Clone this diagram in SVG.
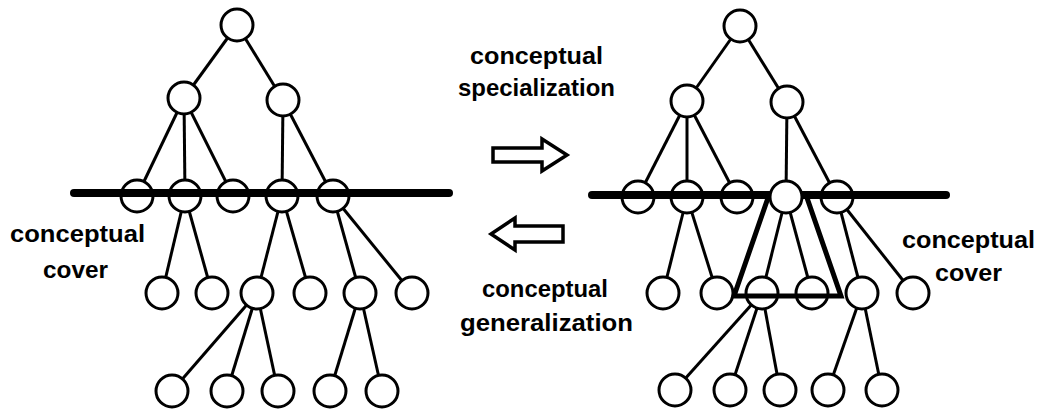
<svg xmlns="http://www.w3.org/2000/svg" width="1038" height="411" viewBox="0 0 1038 411">
<style>
.n{fill:#fff;stroke:#000;stroke-width:3}
.e{stroke:#000;stroke-width:3;fill:none}
.cov{stroke:#000;stroke-width:8;stroke-linecap:round}
.t{font-family:"Liberation Sans",Arial,sans-serif;font-weight:bold;font-size:24px;fill:#000}
.ar{fill:#fff;stroke:#000;stroke-width:3.5;stroke-linejoin:miter}
.tri{fill:none;stroke:#000;stroke-width:5;stroke-linejoin:miter}
</style>
<rect width="1038" height="411" fill="#fff"/>
<g id="connectors">
<line class="e" x1="237" y1="25" x2="184" y2="98"/>
<line class="e" x1="237" y1="25" x2="283" y2="100"/>
<line class="e" x1="184" y1="98" x2="137" y2="196"/>
<line class="e" x1="184" y1="98" x2="185" y2="196"/>
<line class="e" x1="184" y1="98" x2="233" y2="196"/>
<line class="e" x1="283" y1="100" x2="282" y2="196"/>
<line class="e" x1="283" y1="100" x2="333" y2="196"/>
<line class="e" x1="185" y1="196" x2="162" y2="293"/>
<line class="e" x1="185" y1="196" x2="212" y2="293"/>
<line class="e" x1="282" y1="196" x2="257" y2="293"/>
<line class="e" x1="282" y1="196" x2="310" y2="293"/>
<line class="e" x1="333" y1="196" x2="360" y2="293"/>
<line class="e" x1="333" y1="196" x2="412" y2="293"/>
<line class="e" x1="257" y1="293" x2="172" y2="391"/>
<line class="e" x1="257" y1="293" x2="227" y2="391"/>
<line class="e" x1="257" y1="293" x2="278" y2="391"/>
<line class="e" x1="360" y1="293" x2="330" y2="391"/>
<line class="e" x1="360" y1="293" x2="382" y2="391"/>
<line class="e" x1="740" y1="26" x2="687" y2="101"/>
<line class="e" x1="740" y1="26" x2="787" y2="102"/>
<line class="e" x1="687" y1="101" x2="638" y2="197"/>
<line class="e" x1="687" y1="101" x2="687" y2="197"/>
<line class="e" x1="687" y1="101" x2="737" y2="197"/>
<line class="e" x1="787" y1="102" x2="786" y2="197"/>
<line class="e" x1="787" y1="102" x2="837" y2="197"/>
<line class="e" x1="687" y1="197" x2="663" y2="293"/>
<line class="e" x1="687" y1="197" x2="717" y2="293"/>
<line class="e" x1="786" y1="197" x2="762" y2="293"/>
<line class="e" x1="786" y1="197" x2="812" y2="293"/>
<line class="e" x1="837" y1="197" x2="862" y2="293"/>
<line class="e" x1="837" y1="197" x2="913" y2="293"/>
<line class="e" x1="762" y1="293" x2="675" y2="390"/>
<line class="e" x1="762" y1="293" x2="730" y2="390"/>
<line class="e" x1="762" y1="293" x2="780" y2="390"/>
<line class="e" x1="862" y1="293" x2="828" y2="390"/>
<line class="e" x1="862" y1="293" x2="882" y2="390"/>
</g>
<g id="left-tree">
<g id="L-root"><circle class="n" cx="237" cy="25" r="16"/></g>
<g id="L-a"><circle class="n" cx="184" cy="98" r="16"/></g>
<g id="L-b"><circle class="n" cx="283" cy="100" r="16"/></g>
<g id="L-c1"><circle class="n" cx="137" cy="196" r="16"/></g>
<g id="L-c2"><circle class="n" cx="185" cy="196" r="16"/></g>
<g id="L-c3"><circle class="n" cx="233" cy="196" r="16"/></g>
<g id="L-c4"><circle class="n" cx="282" cy="196" r="16"/></g>
<g id="L-c5"><circle class="n" cx="333" cy="196" r="16"/></g>
<g id="L-d1"><circle class="n" cx="162" cy="293" r="16"/></g>
<g id="L-d2"><circle class="n" cx="212" cy="293" r="16"/></g>
<g id="L-d3"><circle class="n" cx="257" cy="293" r="16"/></g>
<g id="L-d4"><circle class="n" cx="310" cy="293" r="16"/></g>
<g id="L-d5"><circle class="n" cx="360" cy="293" r="16"/></g>
<g id="L-d6"><circle class="n" cx="412" cy="293" r="16"/></g>
<g id="L-e1"><circle class="n" cx="172" cy="391" r="16"/></g>
<g id="L-e2"><circle class="n" cx="227" cy="391" r="16"/></g>
<g id="L-e3"><circle class="n" cx="278" cy="391" r="16"/></g>
<g id="L-e4"><circle class="n" cx="330" cy="391" r="16"/></g>
<g id="L-e5"><circle class="n" cx="382" cy="391" r="16"/></g>
<g id="L-cover"><line class="cov" x1="74" y1="193" x2="449" y2="193"/></g>
</g>
<g id="right-tree">
<g id="R-root"><circle class="n" cx="740" cy="26" r="16"/></g>
<g id="R-a"><circle class="n" cx="687" cy="101" r="16"/></g>
<g id="R-b"><circle class="n" cx="787" cy="102" r="16"/></g>
<g id="R-c1"><circle class="n" cx="638" cy="197" r="16"/></g>
<g id="R-c2"><circle class="n" cx="687" cy="197" r="16"/></g>
<g id="R-c3"><circle class="n" cx="737" cy="197" r="16"/></g>
<g id="R-c5"><circle class="n" cx="837" cy="197" r="16"/></g>
<g id="R-d1"><circle class="n" cx="663" cy="293" r="16"/></g>
<g id="R-d2"><circle class="n" cx="717" cy="293" r="16"/></g>
<g id="R-d3"><circle class="n" cx="762" cy="293" r="16"/></g>
<g id="R-d4"><circle class="n" cx="812" cy="293" r="16"/></g>
<g id="R-d5"><circle class="n" cx="862" cy="293" r="16"/></g>
<g id="R-d6"><circle class="n" cx="913" cy="293" r="16"/></g>
<g id="R-e1"><circle class="n" cx="675" cy="390" r="16"/></g>
<g id="R-e2"><circle class="n" cx="730" cy="390" r="16"/></g>
<g id="R-e3"><circle class="n" cx="780" cy="390" r="16"/></g>
<g id="R-e4"><circle class="n" cx="828" cy="390" r="16"/></g>
<g id="R-e5"><circle class="n" cx="882" cy="390" r="16"/></g>
<g id="R-cover"><line class="cov" x1="592" y1="195" x2="946" y2="195"/></g>
<g id="R-triangle"><polygon class="tri" points="769,195 806,195 841,296 734,296"/></g>
<g id="R-c4"><circle class="n" cx="786" cy="197" r="16"/></g>
</g>
<g id="arrow-specialization"><polygon class="ar" points="493,148 542,148 542,139 567,155 542,171 542,162 493,162"/></g>
<g id="arrow-generalization"><polygon class="ar" points="563,226 515,226 515,218 491,234 515,250 515,242 563,242"/></g>
<g id="labels">
<text class="t" x="10" y="242" textLength="135" lengthAdjust="spacingAndGlyphs">conceptual</text>
<text class="t" x="43" y="278" textLength="65" lengthAdjust="spacingAndGlyphs">cover</text>
<text class="t" x="902" y="248" textLength="133" lengthAdjust="spacingAndGlyphs">conceptual</text>
<text class="t" x="935" y="281" textLength="67" lengthAdjust="spacingAndGlyphs">cover</text>
<text class="t" x="470" y="64" textLength="133" lengthAdjust="spacingAndGlyphs">conceptual</text>
<text class="t" x="458" y="96" textLength="157" lengthAdjust="spacingAndGlyphs">specialization</text>
<text class="t" x="482" y="297" textLength="126" lengthAdjust="spacingAndGlyphs">conceptual</text>
<text class="t" x="460" y="331" textLength="173" lengthAdjust="spacingAndGlyphs">generalization</text>
</g>
</svg>
